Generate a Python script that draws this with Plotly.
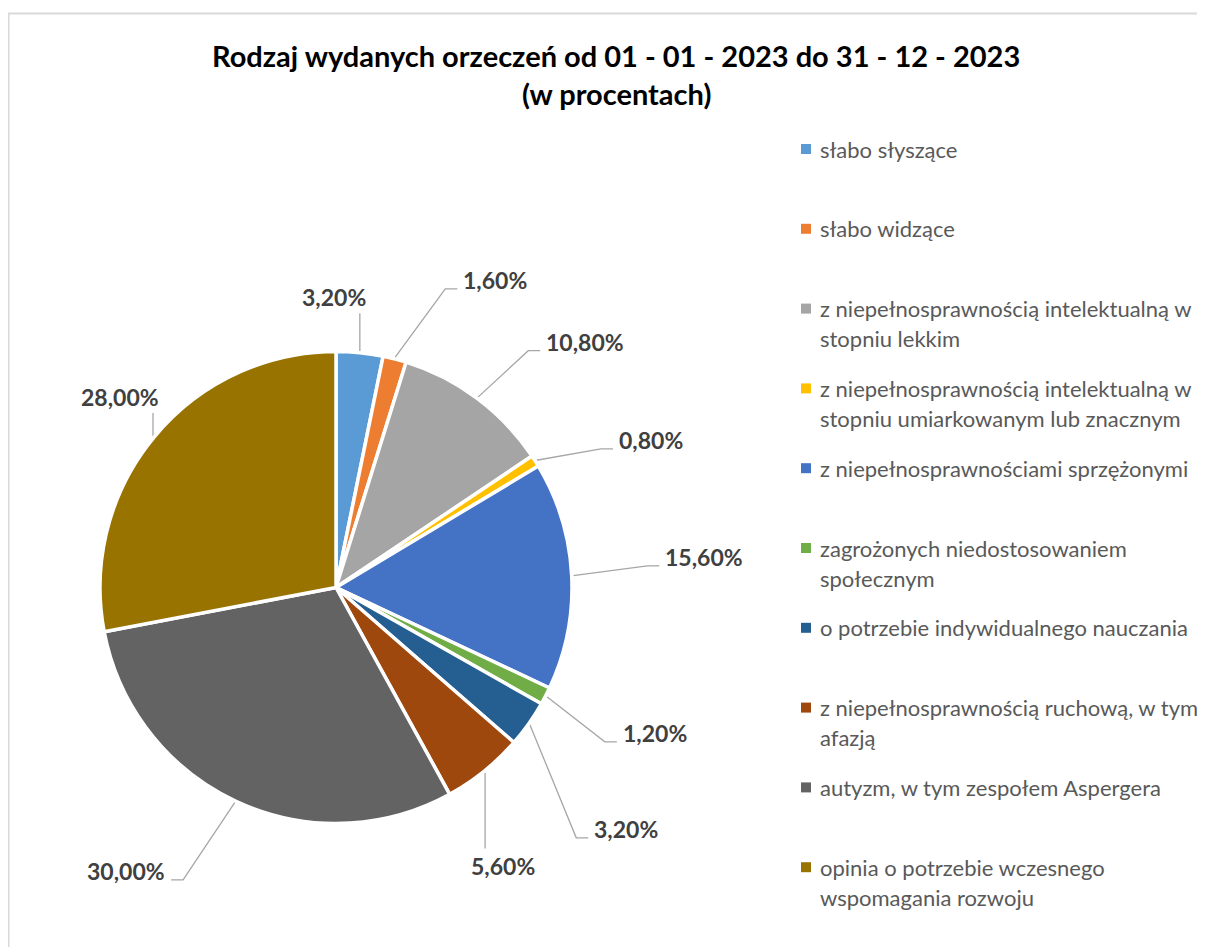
import math
import numpy as np
import plotly.graph_objects as go

# ---------------- data ----------------
CATEGORIES = [
    "słabo słyszące",
    "słabo widzące",
    "z niepełnosprawnością intelektualną w\nstopniu lekkim",
    "z niepełnosprawnością intelektualną w\nstopniu umiarkowanym lub znacznym",
    "z niepełnosprawnościami sprzężonymi",
    "zagrożonych niedostosowaniem\nspołecznym",
    "o potrzebie indywidualnego nauczania",
    "z niepełnosprawnością ruchową, w tym\nafazją",
    "autyzm, w tym zespołem Aspergera",
    "opinia o potrzebie wczesnego\nwspomagania rozwoju",
]
PERCENTS = [3.2, 1.6, 10.8, 0.8, 15.6, 1.2, 3.2, 5.6, 30.0, 28.0]
TITLE_LINES = ["Rodzaj wydanych orzeczeń od 01 - 01 - 2023 do 31 - 12 - 2023",
               "(w procentach)"]

# ---------------- styles / layout ----------------
COLORS = ["#5B9BD5", "#ED7D31", "#A5A5A5", "#FFC000", "#4472C4",
          "#70AD47", "#255E91", "#9E480E", "#636363", "#997300"]
PAGE_W, PAGE_H = 1205, 947
BODY_MARGIN = 8                        # default page margin around the figure
W, H = PAGE_W - BODY_MARGIN, PAGE_H - BODY_MARGIN
CX, CY = 336, 587.5                    # pie centre (page pixels)
R = 236                                # pie radius
R_LEAD = 237.5                         # leader lines start radius
FONT = "Lato"
LFS = 23                               # data-label font size
LEG_FS = 22
TITLE_FS = 29
# leader-line layout per label: (mode, angle shift / vertical length, radius)
LABEL_LAYOUT = [
    ("up", 38, None),
    ("right", 5.7, 318),
    ("right", 2.35, 305),
    ("right", 4.8, 299),
    ("right", -1.1, 312),
    ("right", 2.5, 310),
    ("right", 10.9, 347),
    ("down", 76, None),
    ("left", 2.4, 330),
    ("up", 23, None),
]
LEG_X, LEG_Y0, LEG_STEP, LEG_LINE = 806, 149, 79.8, 30

labels_txt = [f"{v:.2f}".replace(".", ",") + "%" for v in PERCENTS]
total = float(sum(PERCENTS))
cum = np.concatenate([[0.0], np.cumsum(PERCENTS)])
mid_deg = (cum[:-1] + cum[1:]) / 2 / total * 360.0


def polar(theta_deg, r):
    t = math.radians(theta_deg)
    return CX + r * math.sin(t), CY - r * math.cos(t)


def px_x(x):
    return (x - BODY_MARGIN) / W


def px_y(y):
    return (PAGE_H - y) / H


fig = go.Figure()

fig.add_trace(go.Pie(
    values=PERCENTS,
    labels=[c.replace("\n", " ") for c in CATEGORIES],
    sort=False, direction="clockwise", rotation=0,
    marker=dict(colors=COLORS, line=dict(color="white", width=3.5)),
    textinfo="none", showlegend=False,
    domain=dict(x=[px_x(CX - R), px_x(CX + R)],
                y=[px_y(CY + R), px_y(CY - R)]),
    hovertemplate="%{label}: %{value:.2f}%<extra></extra>",
))

# leader lines + labels
lx, ly = [], []
annotations = []
off = 0.38 * LFS
lab_font = dict(family=FONT, size=LFS, color="#404040", weight="bold")
for i, (mode, a, b) in enumerate(LABEL_LAYOUT):
    px, py = polar(mid_deg[i], R_LEAD)
    if mode in ("right", "left"):
        ex, ey = polar(mid_deg[i] + a, b)
        hx = ex + 12 if mode == "right" else ex - 12
        lx += [px, ex, hx, None]
        ly += [py, ey, ey, None]
        if mode == "right":
            annotations.append(dict(x=hx + 4, y=ey - off, xanchor="left", yanchor="middle",
                                    text=labels_txt[i], showarrow=False, font=lab_font,
                                    xref="x", yref="y"))
        else:
            annotations.append(dict(x=hx - 4, y=ey - off, xanchor="right", yanchor="middle",
                                    text=labels_txt[i], showarrow=False, font=lab_font,
                                    xref="x", yref="y"))
    elif mode == "up":
        top = py - a
        lx += [px, px, None]
        ly += [py, top, None]
        annotations.append(dict(x=px + 8, y=top - 7 - off, xanchor="right", yanchor="middle",
                                text=labels_txt[i], showarrow=False, font=lab_font,
                                xref="x", yref="y"))
    else:  # down
        end = py + a
        lx += [px, px, None]
        ly += [py, end, None]
        annotations.append(dict(x=px - 16, y=end + 26 - off, xanchor="left", yanchor="middle",
                                text=labels_txt[i], showarrow=False, font=lab_font,
                                xref="x", yref="y"))

fig.add_trace(go.Scatter(x=lx, y=ly, mode="lines", line=dict(color="#A6A6A6", width=1.3),
                         hoverinfo="skip", showlegend=False))

# title
for j, t in enumerate(TITLE_LINES):
    annotations.append(dict(x=616, y=55 + 38 * j, xref="x", yref="y", xanchor="center",
                            yanchor="middle", text=t, showarrow=False,
                            font=dict(family=FONT, size=TITLE_FS, color="#000000", weight="bold")))

# chart-area border + legend (Excel-like spacing)
shapes = [dict(type="rect", xref="x", yref="y", x0=8.5, y0=13.5, x1=1240, y1=990,
               line=dict(color="#D9D9D9", width=2), fillcolor="rgba(0,0,0,0)", layer="below")]
for i, cat in enumerate(CATEGORIES):
    yi = LEG_Y0 + LEG_STEP * i
    shapes.append(dict(type="rect", xref="x", yref="y", x0=LEG_X - 5, x1=LEG_X + 5,
                       y0=yi - 5, y1=yi + 5, fillcolor=COLORS[i], line=dict(width=0)))
    for k, line in enumerate(cat.split("\n")):
        annotations.append(dict(x=LEG_X + 12, y=yi + LEG_LINE * k, xref="x", yref="y",
                                xanchor="left", yanchor="middle", text=line, showarrow=False,
                                font=dict(family=FONT, size=LEG_FS, color="#595959")))

fig.update_layout(
    width=W, height=H, margin=dict(l=0, r=0, t=0, b=0),
    paper_bgcolor="white", plot_bgcolor="rgba(0,0,0,0)",
    xaxis=dict(range=[BODY_MARGIN, PAGE_W], visible=False, fixedrange=True),
    yaxis=dict(range=[PAGE_H, BODY_MARGIN], visible=False, fixedrange=True),
    annotations=annotations, shapes=shapes, showlegend=False,
)

fig.write_html("out.html")
